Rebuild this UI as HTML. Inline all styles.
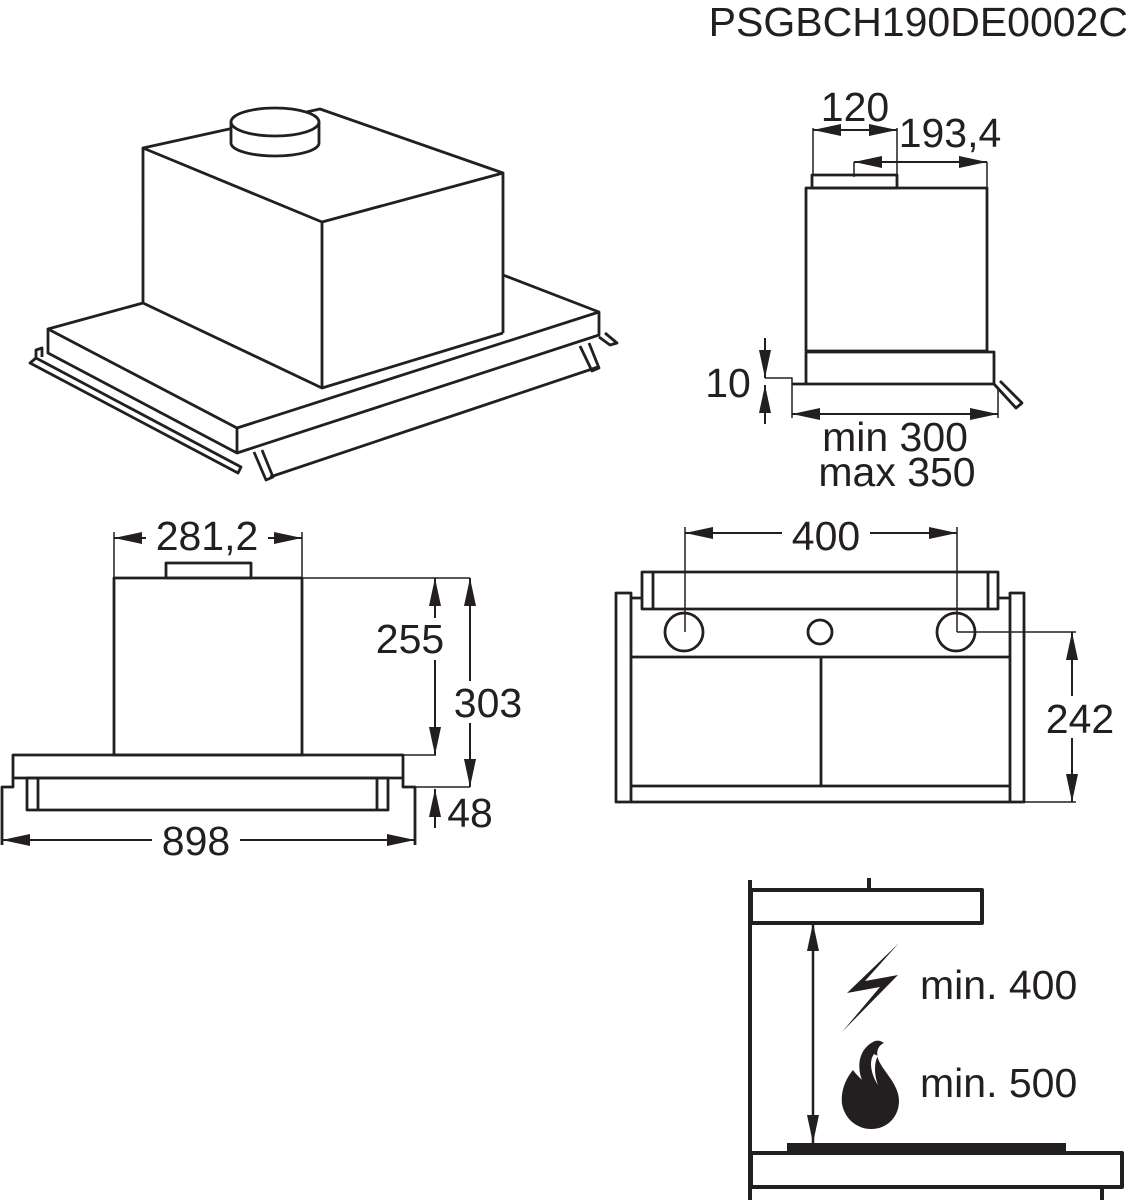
<!DOCTYPE html>
<html><head><meta charset="utf-8"><style>
html,body{margin:0;padding:0;background:#fff;}
svg{display:block;}
text{font-family:"Liberation Sans",sans-serif;fill:#231f20;}
</style></head><body>
<svg width="1132" height="1200" viewBox="0 0 1132 1200" xmlns="http://www.w3.org/2000/svg">
<defs>
<marker id="b" viewBox="0 0 10 10" refX="10" refY="5" markerWidth="28" markerHeight="12" markerUnits="userSpaceOnUse" orient="auto-start-reverse" preserveAspectRatio="none">
<path d="M0,0 L10,5 L0,10 z" fill="#231f20"/></marker>
</defs>
<g stroke="#231f20" fill="none" stroke-linejoin="round">
<text x="1128" y="36" font-size="41" text-anchor="end" stroke="none">PSGBCH190DE0002C</text>

<!-- ISO -->
<g stroke-width="2.8">
<path d="M143,148 L320,109 L503,173 L322,222 Z M143,148 L143,303 M322,222 L322,388 M503,173 L503,333"/>
<path d="M143,303 L48,329 L237,428 L599,312 L503,275 M143,303 L322,388 L503,333"/>
<path d="M48,329 L48,353 L237,453 L599,335 L599,312 M237,428 L237,453"/>
<path d="M30,363 L238,473 L241,467 L36,358 Z M36,358 L36,350 L42,348 L42,357"/>
<path d="M254,452 L266,480 L273,477 L262,450 M270,477 L598,367 M580,346 L592,371 L599,368 L589,343 M599,337 L610,345 L617,343 L605,333"/>
<path d="M231,122 L231,143 A44,13 0 0 0 319,143 L319,122" fill="#fff"/>
<ellipse cx="275" cy="122" rx="44" ry="14" fill="#fff"/>
</g>

<!-- SIDE VIEW -->
<g stroke-width="2.8">
<rect x="812" y="175" width="85" height="13"/>
<rect x="806" y="188" width="181" height="163"/>
<path d="M806,352 L806,384 M806,352 L994,352 L994,384 M792,384 L994,384"/>
<path d="M994,384 L1016,408 L1022,403 L1000,381"/>
</g>
<g stroke-width="1.5">
<path d="M813,175 L813,128 M897,175 L897,128 M854,177 L854,162 M987,188 L987,162"/>
<path d="M765,378 L792,378 L792,418 M998,388 L998,418"/>
</g>
<g stroke-width="2">
<path d="M813,130 L897,130" marker-start="url(#b)" marker-end="url(#b)"/>
<path d="M854,162 L987,162" marker-start="url(#b)" marker-end="url(#b)"/>
<path d="M792,414 L998,414" marker-start="url(#b)" marker-end="url(#b)"/>
<path d="M765,338 L765,378" marker-end="url(#b)"/>
<path d="M765,424 L765,385" marker-end="url(#b)"/>
</g>
<g stroke="none" font-size="41">
<text x="855" y="121" text-anchor="middle">120</text>
<text x="950" y="147" text-anchor="middle">193,4</text>
<text x="728" y="397" text-anchor="middle">10</text>
<text x="895" y="451" text-anchor="middle">min 300</text>
<text x="897" y="486" text-anchor="middle">max 350</text>
</g>

<!-- FRONT VIEW LEFT -->
<g stroke-width="2.8">
<rect x="166" y="563" width="85" height="15"/>
<rect x="114" y="578" width="188" height="177"/>
<rect x="13" y="755" width="390" height="23"/>
<rect x="27" y="778" width="361" height="32"/>
<path d="M38,778 L38,810 M377,778 L377,810"/>
<path d="M13,778 L13,787 L2,787 L2,845 M403,778 L403,787 L415,787 L415,845"/>
</g>
<g stroke-width="1.5">
<path d="M114,578 L114,532 M302,578 L302,532 M302,578 L470,578 M403,755 L436,755 M415,787 L470,787"/>
</g>
<g stroke-width="2">
<path d="M114,538 L302,538" marker-start="url(#b)" marker-end="url(#b)"/>
<path d="M435,578 L435,755" marker-start="url(#b)" marker-end="url(#b)"/>
<path d="M470,578 L470,787" marker-start="url(#b)" marker-end="url(#b)"/>
<path d="M435,828 L435,789" marker-end="url(#b)"/>
<path d="M2,840 L415,840" marker-start="url(#b)" marker-end="url(#b)"/>
</g>
<g stroke="none" font-size="41">
<rect x="146" y="516" width="122" height="40" fill="#fff"/>
<text x="207" y="550" text-anchor="middle">281,2</text>
<rect x="372" y="618" width="76" height="42" fill="#fff"/>
<text x="410" y="653" text-anchor="middle">255</text>
<rect x="450" y="681" width="76" height="42" fill="#fff"/>
<text x="488" y="717" text-anchor="middle">303</text>
<text x="470" y="827" text-anchor="middle">48</text>
<rect x="152" y="820" width="88" height="40" fill="#fff"/>
<text x="196" y="855" text-anchor="middle">898</text>
</g>

<!-- REAR VIEW -->
<g stroke-width="2.8">
<rect x="642" y="572" width="356" height="37"/>
<path d="M653,572 L653,609 M988,572 L988,609"/>
<rect x="616" y="593" width="15" height="209"/>
<rect x="1010" y="593" width="14" height="209"/>
<path d="M631,598 L642,598 M998,598 L1010,598"/>
<circle cx="684" cy="632" r="19"/>
<circle cx="820" cy="632" r="12"/>
<circle cx="956" cy="632" r="19"/>
<path d="M631,657 L1010,657 M631,786 L1010,786 M631,802 L1010,802 M821,657 L821,786"/>
</g>
<g stroke-width="1.5">
<path d="M685,632 L685,527 M957,632 L957,527 M957,632 L1076,632 M1024,802 L1076,802"/>
</g>
<g stroke-width="2">
<path d="M685,533 L957,533" marker-start="url(#b)" marker-end="url(#b)"/>
<path d="M1072,632 L1072,802" marker-start="url(#b)" marker-end="url(#b)"/>
</g>
<g stroke="none" font-size="41">
<rect x="782" y="513" width="88" height="40" fill="#fff"/>
<text x="826" y="550" text-anchor="middle">400</text>
<rect x="1036" y="696" width="90" height="42" fill="#fff"/>
<text x="1080" y="733" text-anchor="middle">242</text>
</g>

<!-- CLEARANCE -->
<g stroke-width="4">
<path d="M750,880 L750,1200 M869,878 L869,890"/>
<rect x="751" y="890" width="231" height="33"/>
<rect x="751" y="1153" width="371" height="34"/>
<path d="M1102,1187 L1102,1200"/>
</g>
<rect x="787" y="1143" width="279" height="10" fill="#231f20" stroke="none"/>
<path d="M813,923 L813,1143" stroke-width="2.5" marker-start="url(#b)" marker-end="url(#b)"/>
<path d="M899,943 L847,993 L880,987 L842,1032 L898,975 L865,981 Z" fill="#231f20" stroke="none"/>
<path d="M873,1042 C858,1050 857,1068 862,1080 C858,1076 855,1073 853,1070 C843,1082 841,1095 842,1104 C845,1120 858,1129 871,1129 C888,1129 899,1116 899,1101 C899,1086 886,1074 880,1063 C875,1054 877,1046 884,1043 C880,1040 876,1040 873,1042 Z" fill="#231f20" stroke="none"/>
<path d="M874,1054 C868,1062 872,1076 878,1085 C874,1075 874,1062 878,1056 Z" fill="#fff" stroke="none"/>
<g stroke="none" font-size="41">
<text x="920" y="999">min. 400</text>
<text x="920" y="1097">min. 500</text>
</g>
</g>
</svg>
</body></html>
